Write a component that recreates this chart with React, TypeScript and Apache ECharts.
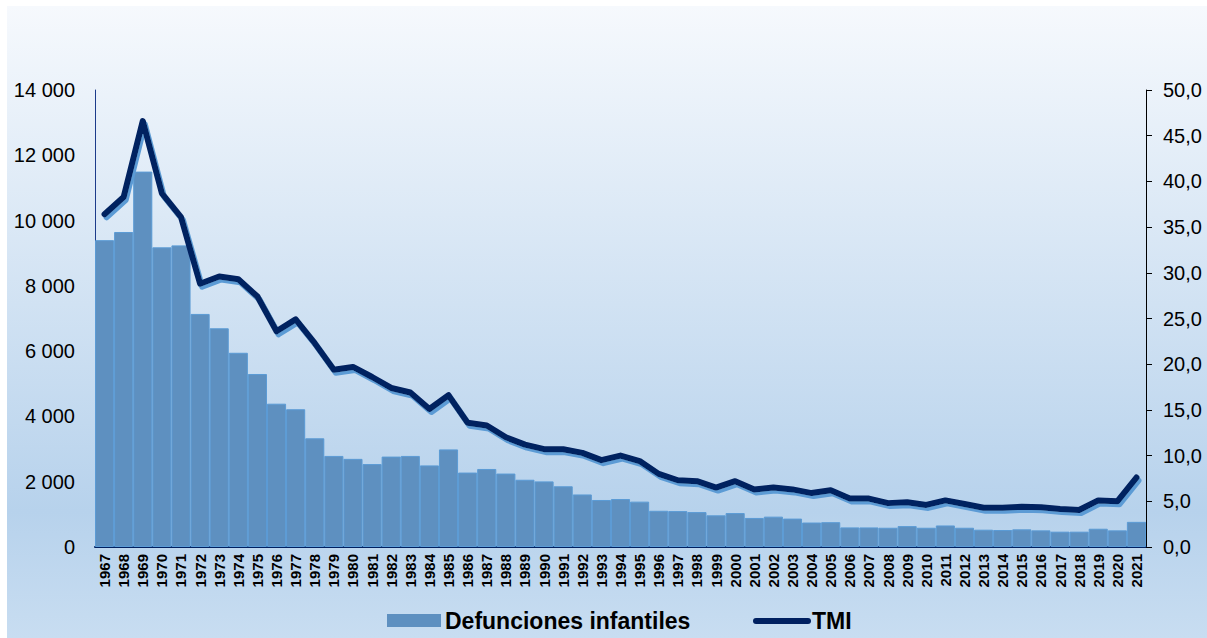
import React, { useEffect, useRef } from "react";
import * as echarts from "echarts";

const years = [
  "1967", "1968", "1969", "1970", "1971", "1972", "1973", "1974", "1975", "1976",
  "1977", "1978", "1979", "1980", "1981", "1982", "1983", "1984", "1985", "1986",
  "1987", "1988", "1989", "1990", "1991", "1992", "1993", "1994", "1995", "1996",
  "1997", "1998", "1999", "2000", "2001", "2002", "2003", "2004", "2005", "2006",
  "2007", "2008", "2009", "2010", "2011", "2012", "2013", "2014", "2015", "2016",
  "2017", "2018", "2019", "2020", "2021",
];

const defunciones = [
  9400, 9650, 11500, 9180, 9240, 7140, 6700, 5950, 5300, 4390,
  4220, 3330, 2790, 2700, 2540, 2770, 2790, 2500, 2990, 2280,
  2390, 2250, 2060, 2010, 1860, 1610, 1440, 1470, 1390, 1110,
  1100, 1070, 970, 1040, 890, 930, 870, 750, 760, 600,
  600, 590, 640, 590, 660, 590, 530, 520, 540, 510,
  470, 470, 560, 510, 770,
];

const tmi = [
  36.4, 38.3, 46.6, 38.7, 36.1, 28.8, 29.6, 29.3, 27.4, 23.6,
  24.9, 22.3, 19.4, 19.7, 18.6, 17.4, 16.9, 15.1, 16.6, 13.6,
  13.3, 12.0, 11.2, 10.7, 10.7, 10.3, 9.5, 10.0, 9.4, 8.0,
  7.3, 7.2, 6.5, 7.2, 6.3, 6.5, 6.3, 5.9, 6.2, 5.3,
  5.3, 4.8, 4.9, 4.6, 5.1, 4.7, 4.3, 4.3, 4.4, 4.35,
  4.15, 4.05, 5.1, 5.0, 7.6,
];

const seriesNames = ["Defunciones infantiles", "TMI"];

const FONT = "'Liberation Sans', Arial, sans-serif";
const BAR_COLOR = "#5e90c0";
const LINE_COLOR = "#002060";

export default function App() {
  const ref = useRef<HTMLDivElement>(null);

  useEffect(() => {
    if (!ref.current) return;
    const chart = echarts.init(ref.current, undefined, { renderer: "svg" });
    chart.setOption({
      animation: false,
      backgroundColor: "#ffffff",
      textStyle: { fontFamily: FONT },
      grid: { left: 95, right: 61, top: 90, bottom: 91, containLabel: false },
      graphic: [
        {
          type: "rect",
          z: -10,
          silent: true,
          shape: { x: 7, y: 6, width: 1200, height: 632 },
          style: {
            fill: new echarts.graphic.LinearGradient(0, 0, 0, 1, [
              { offset: 0, color: "#f6f9fd" },
              { offset: 0.8, color: "#b7d2ec" },
              { offset: 1, color: "#c8ddf1" },
            ]),
          },
        },
        {
          type: "rect",
          shape: { x: 387, y: 614, width: 54, height: 13 },
          style: { fill: BAR_COLOR },
        },
        {
          type: "text",
          x: 445,
          y: 621,
          style: {
            text: seriesNames[0],
            font: `bold 23px ${FONT}`,
            fill: "#000",
            verticalAlign: "middle",
            align: "left",
          },
        },
        {
          type: "line",
          shape: { x1: 756, y1: 621, x2: 808, y2: 621 },
          style: { stroke: LINE_COLOR, lineWidth: 6, lineCap: "round" },
        },
        {
          type: "text",
          x: 812,
          y: 621,
          style: {
            text: seriesNames[1],
            font: `bold 23px ${FONT}`,
            fill: "#000",
            verticalAlign: "middle",
            align: "left",
          },
        },
      ],
      xAxis: {
        type: "category",
        data: years,
        boundaryGap: true,
        axisLine: { show: true, lineStyle: { color: "#002060", width: 2 } },
        axisTick: { show: false },
        axisLabel: {
          rotate: 90,
          interval: 0,
          margin: 7,
          fontSize: 15,
          fontWeight: "bold",
          color: "#000",
          fontFamily: FONT,
        },
      },
      yAxis: [
        {
          type: "value",
          min: 0,
          max: 14000,
          interval: 2000,
          position: "left",
          splitLine: { show: false },
          axisLine: { show: true, lineStyle: { color: "#1c3b8a", width: 1 } },
          axisTick: { show: false },
          axisLabel: {
            margin: 20,
            fontSize: 20,
            color: "#000",
            fontFamily: FONT,
            formatter: (v: number) =>
              String(v).replace(/\B(?=(\d{3})+(?!\d))/g, " "),
          },
        },
        {
          type: "value",
          min: 0,
          max: 50,
          interval: 5,
          position: "right",
          splitLine: { show: false },
          axisLine: { show: true, lineStyle: { color: "#000", width: 1 } },
          axisTick: { show: true, length: 6, lineStyle: { color: "#000" } },
          axisLabel: {
            margin: 17,
            fontSize: 20,
            color: "#000",
            fontFamily: FONT,
            formatter: (v: number) => v.toFixed(1).replace(".", ","),
          },
        },
      ],
      series: [
        {
          name: seriesNames[0],
          type: "bar",
          data: defunciones,
          yAxisIndex: 0,
          barCategoryGap: "0%",
          itemStyle: {
            color: BAR_COLOR,
            borderColor: "#5b9bd5",
            borderWidth: 1,
          },
          z: 2,
        },
        {
          name: seriesNames[1],
          type: "line",
          data: tmi,
          yAxisIndex: 1,
          symbol: "none",
          lineStyle: {
            color: LINE_COLOR,
            width: 6,
            cap: "round",
            join: "round",
            shadowColor: "#5b9bd5",
            shadowBlur: 0,
            shadowOffsetX: 2,
            shadowOffsetY: 3,
          },
          z: 3,
        },
      ],
    });
    return () => chart.dispose();
  }, []);

  return (
    <div
      ref={ref}
      style={{ position: "absolute", left: 0, top: 0, width: 1207, height: 638 }}
    />
  );
}
